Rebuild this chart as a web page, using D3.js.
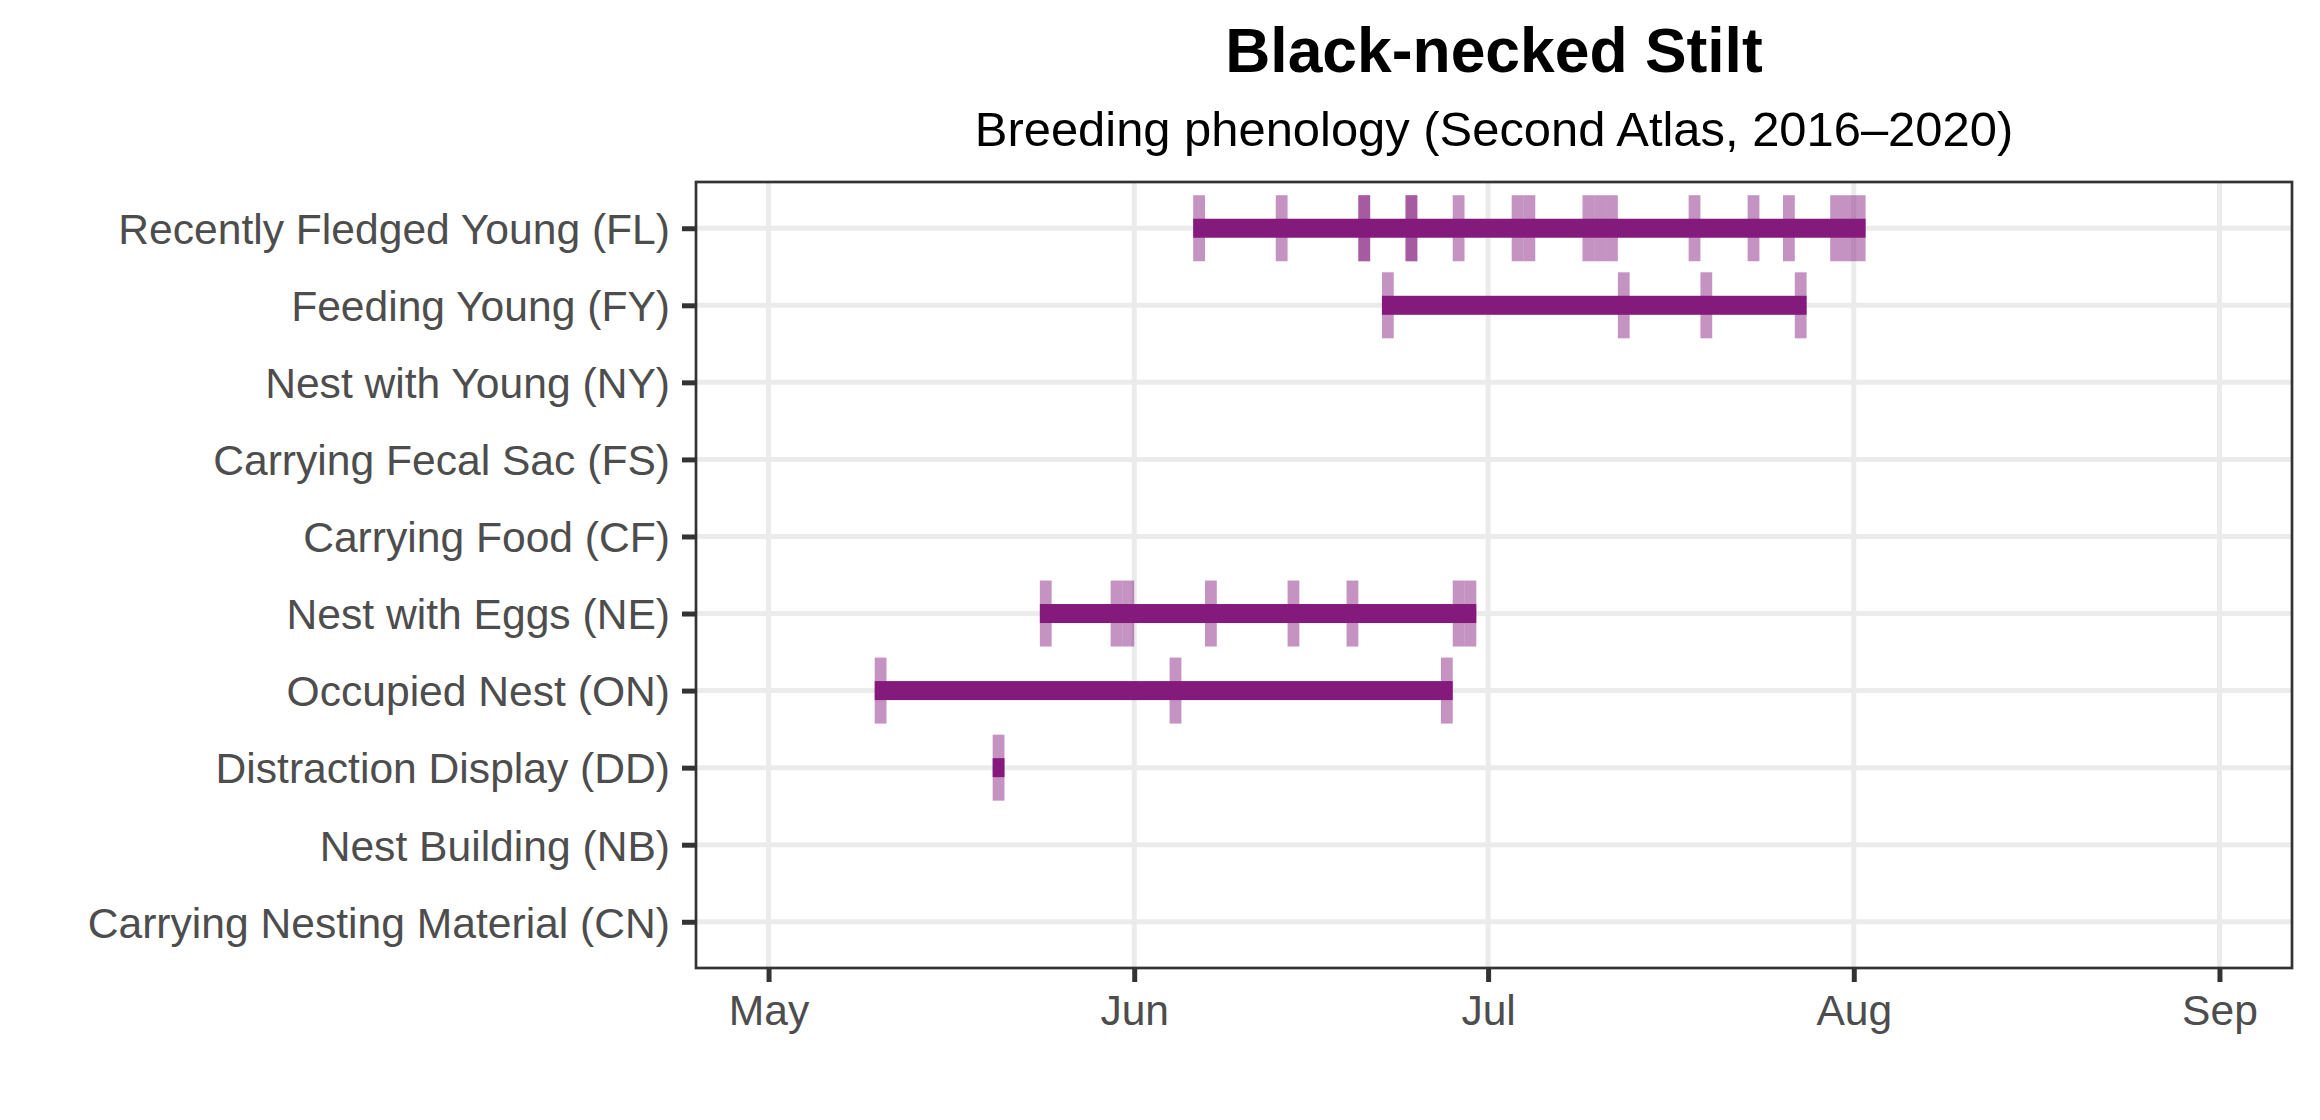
<!DOCTYPE html>
<html>
<head>
<meta charset="utf-8">
<script src="https://cdn.jsdelivr.net/npm/d3@7"></script>
<style>
  body { margin: 0; background: #fff; }
  text { font-family: "Liberation Sans", Arial, sans-serif; }
</style>
</head>
<body>
<div id="chart"></div>
<script>
// breeding codes, top to bottom
var codes = ["FL", "FY", "NY", "FS", "CF", "NE", "ON", "DD", "NB", "CN"];
var codeLabels = [
  "Recently Fledged Young (FL)",
  "Feeding Young (FY)",
  "Nest with Young (NY)",
  "Carrying Fecal Sac (FS)",
  "Carrying Food (CF)",
  "Nest with Eggs (NE)",
  "Occupied Nest (ON)",
  "Distraction Display (DD)",
  "Nest Building (NB)",
  "Carrying Nesting Material (CN)"
];

// observation dates (month-day), repeats = more than one record that day
var obsFL = ["06-06", "06-13", "06-20", "06-20", "06-24", "06-24", "06-28", "07-03", "07-04",
             "07-09", "07-10", "07-11", "07-18", "07-23", "07-26", "07-30", "07-31", "08-01"];
var obsFY = ["06-22", "07-12", "07-19", "07-27"];
var obsNE = ["05-24", "05-30", "05-31", "06-07", "06-14", "06-19", "06-28", "06-29"];
var obsON = ["05-10", "06-04", "06-27"];
var obsDD = ["05-20"];

var monthTicks = ["05-01", "06-01", "07-01", "08-01", "09-01"];

var titleText = "Black-necked Stilt";
var subtitleText = "Breeding phenology (Second Atlas, 2016\u20132020)";

var svgWidth = 2320;
var svgHeight = 1120;

var panel = { left: 696, right: 2292, top: 182, bottom: 968 };

var svg = d3.select("#chart")
  .append("svg")
  .attr("width", svgWidth)
  .attr("height", svgHeight);

var parseDay = function(s) { return new Date(Date.UTC(2019, +s.slice(0, 2) - 1, +s.slice(3, 5))); };
var DAY = 86400000;

// Step 1: gather records
var obsByCode = { FL: obsFL, FY: obsFY, NE: obsNE, ON: obsON, DD: obsDD };
var records = [];
var spans = [];
codes.forEach(function(c) {
  var list = obsByCode[c];
  if (!list) return;
  var dates = list.map(parseDay);
  dates.forEach(function(d) { records.push({ code: c, date: d }); });
  spans.push({ code: c, start: d3.min(dates), end: new Date(+d3.max(dates) + DAY) });
});

// Step 2: scales (dates May 1 - Sep 1 with 5% padding)
var lo = parseDay("05-01"), hi = parseDay("09-01");
var pad = (hi - lo) * 0.05;
var xScale = d3.scaleUtc()
  .domain([new Date(+lo - pad), new Date(+hi + pad)])
  .range([panel.left, panel.right]);

var yScale = d3.scalePoint()
  .domain(codes)
  .range([panel.top, panel.bottom])
  .padding(0.6);

var tickDates = monthTicks.map(parseDay);

// Step 3: grid lines
svg.append("g")
  .selectAll("line")
  .data(tickDates)
  .enter()
  .append("line")
  .attr("x1", d => xScale(d))
  .attr("x2", d => xScale(d))
  .attr("y1", panel.top)
  .attr("y2", panel.bottom)
  .attr("stroke", "#ebebeb")
  .attr("stroke-width", 5);

svg.append("g")
  .selectAll("line")
  .data(codes)
  .enter()
  .append("line")
  .attr("x1", panel.left)
  .attr("x2", panel.right)
  .attr("y1", d => yScale(d))
  .attr("y2", d => yScale(d))
  .attr("stroke", "#ebebeb")
  .attr("stroke-width", 5);

// Step 4: daily records and span bars
var purple = "#841a7c";

svg.append("g")
  .selectAll("rect")
  .data(records)
  .enter()
  .append("rect")
  .attr("x", d => xScale(d.date))
  .attr("width", d => xScale(new Date(+d.date + DAY)) - xScale(d.date))
  .attr("y", d => yScale(d.code) - 33)
  .attr("height", 66)
  .attr("fill", purple)
  .attr("fill-opacity", 0.47);

svg.append("g")
  .selectAll("rect")
  .data(spans)
  .enter()
  .append("rect")
  .attr("x", d => xScale(d.start))
  .attr("width", d => xScale(d.end) - xScale(d.start))
  .attr("y", d => yScale(d.code) - 9.5)
  .attr("height", 19)
  .attr("fill", purple);

// Step 5: panel border
svg.append("rect")
  .attr("x", panel.left)
  .attr("y", panel.top)
  .attr("width", panel.right - panel.left)
  .attr("height", panel.bottom - panel.top)
  .attr("fill", "none")
  .attr("stroke", "#333333")
  .attr("stroke-width", 2.7);

// Step 6: axes
var bottomAxis = d3.axisBottom(xScale)
  .tickValues(tickDates)
  .tickFormat(d3.utcFormat("%b"))
  .tickSize(14)
  .tickPadding(13);

var leftAxis = d3.axisLeft(yScale)
  .tickFormat((d, i) => codeLabels[i])
  .tickSize(14)
  .tickPadding(12);

var xAxisG = svg.append("g")
  .attr("transform", `translate(0, ${panel.bottom})`)
  .call(bottomAxis);

var yAxisG = svg.append("g")
  .attr("transform", `translate(${panel.left}, 0)`)
  .call(leftAxis);

[xAxisG, yAxisG].forEach(function(g) {
  g.select(".domain").remove();
  g.selectAll(".tick line").attr("stroke", "#333333").attr("stroke-width", 5);
  g.selectAll(".tick text")
    .attr("fill", "#4d4d4d")
    .attr("font-size", "42.6px")
    .attr("font-family", "'Liberation Sans', Arial, sans-serif");
});
xAxisG.selectAll(".tick text").attr("dy", "0.71em");
yAxisG.selectAll(".tick text").attr("dy", "0.36em");

// Step 7: titles
var midX = (panel.left + panel.right) / 2;
svg.append("text")
  .attr("x", midX)
  .attr("y", 72)
  .attr("text-anchor", "middle")
  .attr("font-size", "62.4px")
  .attr("font-weight", "bold")
  .attr("fill", "#000")
  .text(titleText);

svg.append("text")
  .attr("x", midX)
  .attr("y", 145.5)
  .attr("text-anchor", "middle")
  .attr("font-size", "48.9px")
  .attr("fill", "#000")
  .text(subtitleText);
</script>
</body>
</html>
